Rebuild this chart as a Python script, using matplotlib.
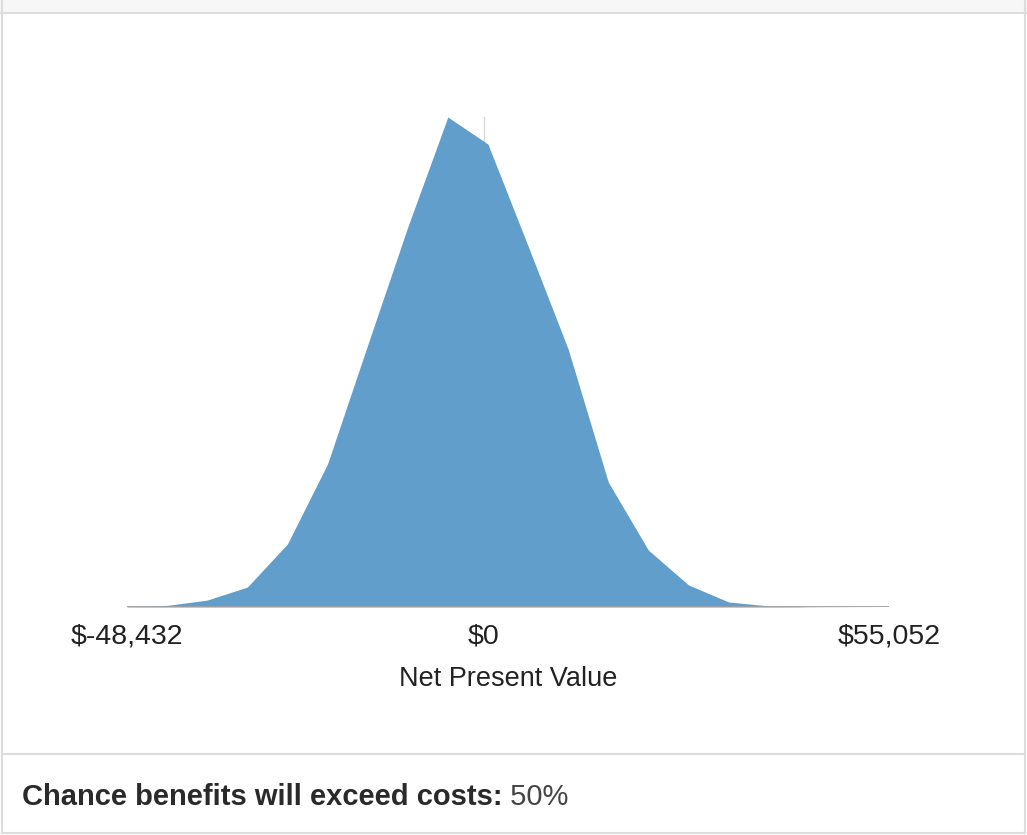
import matplotlib
matplotlib.use("Agg")
import matplotlib.pyplot as plt
from matplotlib.patches import Rectangle
from matplotlib.lines import Line2D

plt.rcParams['font.family'] = ['Liberation Sans', 'DejaVu Sans']

# NPV bin centres ($) and share of simulations in each bin (%)
npv = [-48432, -42985, -37539, -32092, -26646, -21199, -15753, -10306, -4860, 587,
       6033, 11480, 16926, 22373, 27819, 33266, 38712, 44159, 49605, 55052]
share = [0.02, 0.06, 0.26, 0.75, 2.37, 5.38, 9.85, 14.29, 18.43, 17.41,
         13.58, 9.70, 4.70, 2.14, 0.83, 0.19, 0.04, 0.01, 0.004, 0.0]
tick_vals = [-48432, 0, 55052]
tick_labels = ['$-48,432', '$0', '$55,052']
chance = 50

W, H = 1027, 835
fig = plt.figure(figsize=(W / 100, H / 100), dpi=100)
fig.patch.set_facecolor('white')

# --- card frame ---
fig.add_artist(Rectangle((0, 1 - 13 / H), 1, 13 / H, transform=fig.transFigure,
                         facecolor='#f7f7f7', edgecolor='none', zorder=0))
border = '#dddddd'
fig.add_artist(Line2D([0, 1], [1 - 13 / H] * 2, transform=fig.transFigure, color=border, lw=1.5))
fig.add_artist(Line2D([2 / W, 2 / W], [2 / H, 1], transform=fig.transFigure, color=border, lw=1.5))
fig.add_artist(Line2D([1 - 2 / W, 1 - 2 / W], [2 / H, 1], transform=fig.transFigure, color=border, lw=1.5))
fig.add_artist(Line2D([2 / W, 1 - 2 / W], [2 / H, 2 / H], transform=fig.transFigure, color=border, lw=1.5))
fig.add_artist(Line2D([2 / W, 1 - 2 / W], [1 - 754 / H] * 2, transform=fig.transFigure, color=border, lw=1.5))

# --- distribution ---
ax = fig.add_axes([127 / W, (H - 607) / H, 762 / W, 490 / H])
ax.axvline(0, color='#d8d8d8', lw=1, zorder=1)
ax.fill_between(npv, share, 0, color='#619ecb', lw=0, zorder=2)
ax.axhline(0, color='#a0a0a0', lw=2, zorder=3)
ax.set_xlim(npv[0], npv[-1])
ax.set_ylim(0, max(share))
for s in ax.spines.values():
    s.set_visible(False)
ax.set_yticks([])
ax.set_xticks(tick_vals)
ax.set_xticklabels(tick_labels, fontsize=20.5, color='#222222')
ax.tick_params(axis='x', length=0, pad=12)
ax.set_xlabel('Net Present Value', fontsize=19.5, color='#222222', labelpad=12)

# --- footer ---
t1 = fig.text(22 / W, 1 - 797 / H, 'Chance benefits will exceed costs:', fontsize=21,
              fontweight='bold', color='#2a2a2a', va='center', ha='left')
ax.annotate(f' {chance}%', xy=(1, 0.5), xycoords=t1, fontsize=21, color='#444444',
            va='center', ha='left', annotation_clip=False)

fig.savefig('out.png', dpi=100)
